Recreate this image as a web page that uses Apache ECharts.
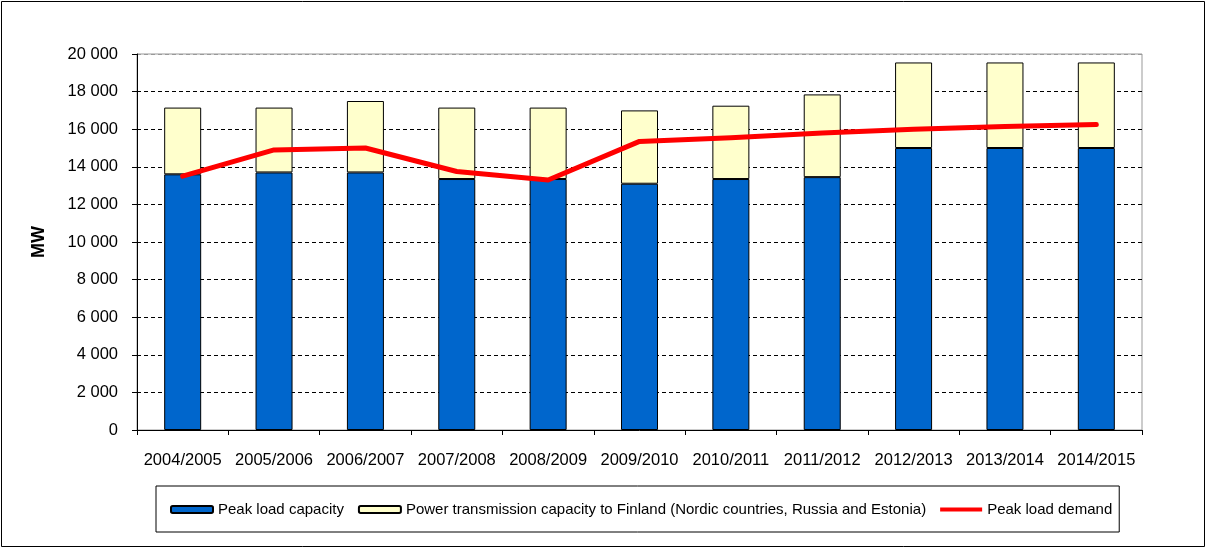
<!DOCTYPE html>
<html>
<head>
<meta charset="utf-8">
<script src="https://cdn.jsdelivr.net/npm/echarts@6/dist/echarts.min.js"></script>
<style>
html,body{margin:0;padding:0;background:#fff;}
#chart{width:1207px;height:549px;}
</style>
</head>
<body>
<div id="chart"></div>
<script>
var categories = ['2004/2005','2005/2006','2006/2007','2007/2008','2008/2009','2009/2010','2010/2011','2011/2012','2012/2013','2013/2014','2014/2015'];
var peakLoadCapacity = [13600, 13700, 13700, 13350, 13350, 13100, 13350, 13450, 15000, 15000, 15000];
var transmissionCapacity = [3550, 3450, 3800, 3800, 3800, 3900, 3900, 4400, 4550, 4550, 4550];
var peakLoadDemand = [13500, 14900, 15000, 13750, 13300, 15350, 15550, 15800, 16000, 16150, 16250];
var yTicks = [0, 2000, 4000, 6000, 8000, 10000, 12000, 14000, 16000, 18000, 20000];

var font = 'Liberation Sans, Arial, sans-serif';
var chart = echarts.init(document.getElementById('chart'), null, {renderer: 'canvas'});

var splitColors = yTicks.map(function (v, i) { return i === yTicks.length - 1 ? '#999999' : '#000000'; });

chart.setOption({
  animation: false,
  backgroundColor: '#ffffff',
  textStyle: {fontFamily: font},
  grid: {left: 137, right: 65, top: 54, bottom: 119, show: true, borderColor: '#999999', borderWidth: 1},
  graphic: [{
    type: 'rect', shape: {x: 1.5, y: 1.5, width: 1203, height: 545},
    style: {fill: 'none', stroke: '#000', lineWidth: 1}, z: 100
  }],
  legend: {
    left: 156, top: 486,
    padding: [16, 7, 15, 14],
    borderColor: '#000', borderWidth: 1,
    itemGap: 14,
    itemWidth: 42, itemHeight: 7,
    textStyle: {fontFamily: font, fontSize: 15, color: '#000'},
    data: [
      {name: 'Peak load capacity'},
      {name: 'Power transmission capacity to Finland (Nordic countries, Russia and Estonia)'},
      {name: 'Peak load demand', icon: 'path://M0,0 H42 V4 H0 Z', itemStyle: {color: '#FF0000', borderWidth: 0}}
    ]
  },
  xAxis: {
    type: 'category',
    data: categories,
    axisLine: {lineStyle: {color: '#000', width: 1}},
    axisTick: {show: true, alignWithLabel: false, length: 5, lineStyle: {color: '#000'}},
    axisLabel: {color: '#000', fontSize: 16.5, fontFamily: font, margin: 22, interval: 0},
    splitLine: {show: false}
  },
  yAxis: {
    type: 'value',
    min: 0, max: 20000, interval: 2000,
    name: 'MW',
    nameLocation: 'middle',
    nameGap: 89,
    nameRotate: 90,
    nameTextStyle: {fontFamily: font, fontSize: 18, fontWeight: 'bold', color: '#000'},
    axisLine: {show: true, lineStyle: {color: '#000', width: 1}},
    axisTick: {show: true, length: 5, lineStyle: {color: '#000'}},
    axisLabel: {
      color: '#000', fontSize: 16.5, fontFamily: font, margin: 19,
      formatter: function (v) {
        var s = String(v);
        return s.length > 3 ? s.slice(0, s.length - 3) + ' ' + s.slice(s.length - 3) : s;
      }
    },
    splitLine: {show: true, lineStyle: {color: splitColors, type: [4, 3], width: 1}}
  },
  series: [
    {
      name: 'Peak load capacity',
      type: 'bar', stack: 'cap',
      data: peakLoadCapacity,
      barWidth: 37,
      itemStyle: {color: '#0066CC', borderColor: '#000', borderWidth: 1}
    },
    {
      name: 'Power transmission capacity to Finland (Nordic countries, Russia and Estonia)',
      type: 'bar', stack: 'cap',
      data: transmissionCapacity,
      barWidth: 37,
      itemStyle: {color: '#FFFFCC', borderColor: '#000', borderWidth: 1}
    },
    {
      name: 'Peak load demand',
      type: 'line',
      data: peakLoadDemand,
      symbol: 'none',
      z: 10,
      lineStyle: {color: '#FF0000', width: 5, cap: 'round', join: 'round'},
      itemStyle: {color: '#FF0000'}
    }
  ]
});
</script>
</body>
</html>
